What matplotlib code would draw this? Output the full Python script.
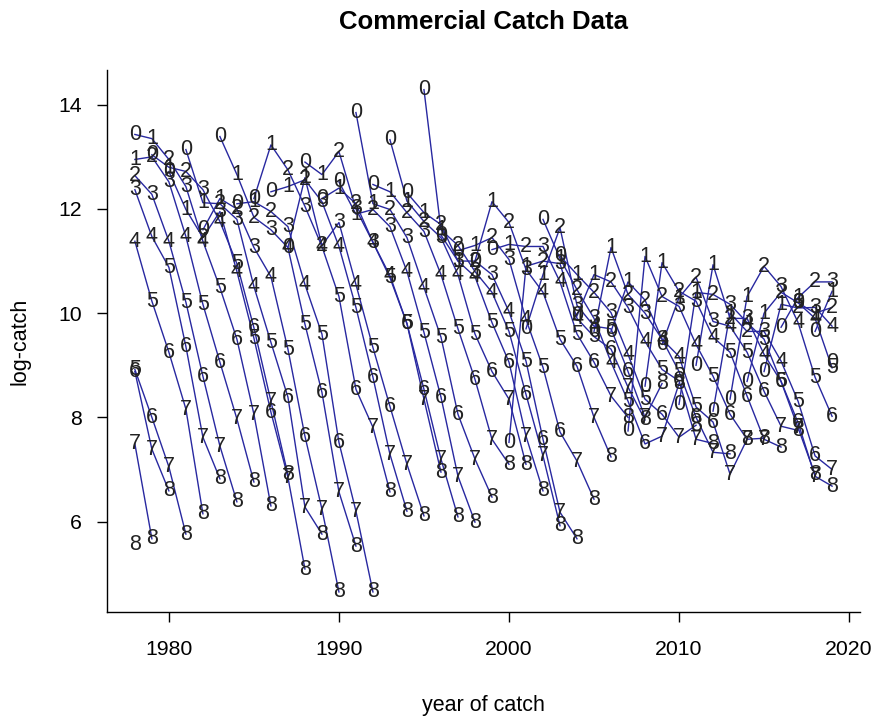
import numpy as np
import matplotlib
matplotlib.use("Agg")
import matplotlib.pyplot as plt

plt.rcParams['font.family'] = ['Liberation Sans', 'DejaVu Sans']

# log-catch by year (rows) for ages 0..8
years = list(range(1978, 2020))

age0 = [13.43, 13.04, 12.72, 13.14, 11.60, 13.39, 12.10, 12.20, 12.33, 11.26,
        12.90, 12.20, 12.52, 13.85, 12.47, 13.33, 12.31, 14.29, 11.50, 11.20,
        11.00, 11.22, 7.52, 9.70, 11.80, 11.10, 9.95, 9.65, 9.65, 7.74,
        8.60, 9.40, 8.25, 9.00, 8.12, 8.35, 8.69, 8.88, 9.73, 10.20,
        9.65, 9.06]
age1 = [12.95, 13.35, 12.80, 11.99, 12.12, 12.20, 12.66, 12.14, 13.23, 12.43,
        12.60, 12.66, 12.40, 11.90, 12.10, 12.33, 12.15, 11.93, 11.60, 11.00,
        11.30, 12.14, 11.32, 10.90, 10.74, 11.05, 10.74, 10.74, 11.26, 10.60,
        11.09, 10.97, 10.30, 10.40, 10.93, 10.00, 10.32, 10.00, 10.17, 10.30,
        10.00, 10.42]
age2 = [12.64, 13.00, 12.95, 12.72, 11.45, 12.10, 12.00, 11.84, 11.95, 12.75,
        12.56, 11.30, 13.10, 12.10, 11.99, 11.99, 11.93, 11.76, 11.70, 11.30,
        11.00, 11.45, 11.74, 11.28, 11.00, 11.64, 10.45, 10.40, 10.60, 10.36,
        10.25, 10.32, 10.42, 10.69, 10.36, 9.90, 9.65, 10.90, 10.40, 10.10,
        10.60, 10.11]
age3 = [12.37, 12.28, 12.52, 12.43, 12.37, 11.95, 11.80, 11.26, 11.60, 11.66,
        12.05, 12.14, 11.74, 12.00, 11.36, 11.66, 11.45, 11.57, 11.45, 11.00,
        10.80, 10.74, 11.03, 10.84, 11.28, 10.95, 10.15, 9.90, 10.01, 10.11,
        10.00, 9.50, 10.13, 10.23, 9.84, 10.17, 9.90, 9.65, 10.51, 10.20,
        10.11, 10.60]
age4 = [11.38, 11.47, 11.38, 11.47, 11.38, 11.76, 10.80, 10.51, 10.70, 11.26,
        10.55, 11.28, 11.28, 10.55, 11.36, 10.72, 10.80, 10.49, 10.74, 10.74,
        10.70, 10.40, 10.03, 9.88, 10.40, 10.60, 9.90, 9.75, 9.06, 9.21,
        9.46, 9.50, 9.17, 9.40, 9.54, 9.75, 9.82, 9.21, 9.08, 9.82,
        9.90, 9.75]
age5 = [8.92, 10.23, 10.88, 10.21, 10.17, 10.49, 10.95, 9.52, 9.44, 9.31,
        9.79, 9.60, 10.32, 10.11, 9.34, 10.68, 9.80, 9.63, 9.54, 9.70,
        9.60, 9.82, 9.65, 9.08, 8.96, 9.50, 9.60, 9.55, 9.70, 8.31,
        8.35, 8.92, 8.88, 8.20, 8.79, 9.25, 9.25, 9.50, 8.69, 8.31,
        8.77, 8.95]
age6 = [8.88, 8.00, 9.25, 9.36, 8.79, 9.06, 9.50, 9.72, 8.10, 8.39,
        7.64, 8.48, 7.52, 8.54, 8.77, 8.21, 9.80, 8.54, 8.39, 8.06,
        8.73, 8.88, 9.06, 8.44, 7.58, 7.72, 8.98, 9.06, 9.31, 8.88,
        7.49, 8.06, 8.70, 8.00, 7.91, 8.06, 8.41, 8.50, 8.69, 7.90,
        7.26, 8.02]
age7 = [7.49, 7.39, 7.05, 8.16, 7.62, 7.45, 7.97, 8.06, 8.31, 6.85,
        6.28, 6.24, 6.57, 6.20, 7.81, 7.29, 7.10, 8.35, 7.20, 6.87,
        7.20, 7.58, 8.35, 7.64, 7.26, 6.18, 7.16, 8.00, 8.41, 8.58,
        8.00, 7.64, 7.62, 7.58, 7.33, 6.91, 7.58, 7.58, 7.83, 7.80,
        6.87, 7.00]
age8 = [5.57, 5.67, 6.59, 5.76, 6.15, 6.82, 6.38, 6.76, 6.30, 6.90,
        5.09, 5.76, 4.65, 5.53, 4.65, 6.57, 6.20, 6.11, 6.95, 6.09,
        5.99, 6.47, 7.10, 7.10, 6.59, 5.92, 5.67, 6.43, 7.24, 8.00,
        7.95, 8.65, 8.65, 7.85, 7.50, 7.30, 7.58, 7.60, 7.43, 7.75,
        6.90, 6.68]

ages = [age0, age1, age2, age3, age4, age5, age6, age7, age8]
catch = np.array(ages).T          # shape (n_years, n_ages)
yr = np.array(years)
n_years, n_ages = catch.shape

fig = plt.figure(figsize=(8.72, 7.17), dpi=100)
ax = fig.add_axes([0.1227, 0.1464, 0.8635, 0.7566])

# one line per cohort: (year i, age a) -> (year i+1, age a+1)
for k in range(-(n_ages - 1), n_years):
    xs, ys = [], []
    for a in range(n_ages):
        i = k + a
        if 0 <= i < n_years:
            xs.append(yr[i])
            ys.append(catch[i, a])
    if len(xs) > 1:
        ax.plot(xs, ys, color='#2828a0', lw=1.0, zorder=1)

# age digits as plotting symbols
for i in range(n_years):
    for a in range(n_ages):
        ax.text(yr[i], catch[i, a], str(a), ha='center', va='center',
                fontsize=15.5, color='#222222', zorder=2)

# R-style axis limits (4% padding)
xr = yr.max() - yr.min()
ax.set_xlim(yr.min() - 0.04 * xr, yr.max() + 0.04 * xr)
yr_ = catch.max() - catch.min()
ax.set_ylim(catch.min() - 0.04 * yr_, catch.max() + 0.04 * yr_)

ax.set_xticks([1980, 1990, 2000, 2010, 2020])
ax.set_yticks([6, 8, 10, 12, 14])
ax.tick_params(direction='out', length=7, width=1, labelsize=15.3, pad=13)
ax.tick_params(axis='y', pad=11)
for s in ['top', 'right']:
    ax.spines[s].set_visible(False)
for s in ['left', 'bottom']:
    ax.spines[s].set_linewidth(1)

fig.text(0.5545, 0.970, 'Commercial Catch Data', ha='center', va='center',
         fontsize=18.5, fontweight='bold')
fig.text(0.5545, 0.0167, 'year of catch', ha='center', va='center', fontsize=15.5)
fig.text(0.023, 0.5244, 'log-catch', ha='center', va='center', fontsize=15.5,
         rotation=90)

fig.savefig('out.png', dpi=100)
